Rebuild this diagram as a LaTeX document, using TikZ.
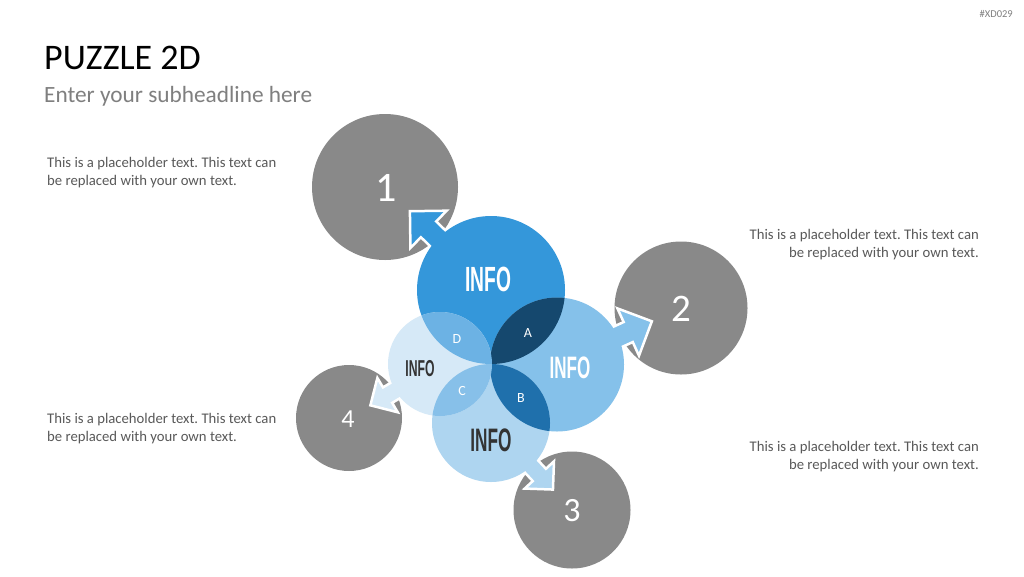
\documentclass[tikz,border=0pt]{standalone}
\usepackage{fontspec}
\setmainfont{Carlito}
\newfontfamily\infofont{Liberation Sans}
\usepackage{graphicx}
\usetikzlibrary{calc}
\frenchspacing
\pgfdeclarelayer{bglayer}
\pgfdeclarelayer{greylayer}
\pgfdeclarelayer{arrowlayer}
\pgfsetlayers{bglayer,greylayer,arrowlayer,main}
\definecolor{cBig}{RGB}{52,151,218}
\definecolor{cRight}{RGB}{133,193,234}
\definecolor{cBottom}{RGB}{174,213,240}
\definecolor{cLeft}{RGB}{214,233,247}
\definecolor{cA}{RGB}{21,72,110}
\definecolor{cB}{RGB}{31,112,172}
\definecolor{cC}{RGB}{135,192,233}
\definecolor{cD}{RGB}{108,178,228}
\definecolor{cGrey}{RGB}{137,137,137}
\definecolor{cText}{RGB}{89,89,89}
\definecolor{cSub}{RGB}{127,127,127}
\definecolor{cInfo}{RGB}{51,51,51}
\tikzset{
  greydisc/.style={circle, fill=cGrey, inner sep=0pt, text=white},
  bluedisc/.style={circle, inner sep=0pt},
  arrowstyle/.style={draw=white, line width=2.5pt, line join=miter},
  bodytext/.style={inner sep=0pt, text=cText, font=\fontsize{14.7}{17}\selectfont},
  infotxt/.style={inner sep=0pt, font=\infofont\bfseries\fontsize{#1}{#1}\selectfont},
  lettertxt/.style={inner sep=0pt, text=white, font=\fontsize{14}{14}\selectfont},
}
\newcommand{\puzArrow}[5]{%
  \coordinate (#2-h) at ($(#2)!#4!(#1)$);
  \filldraw[arrowstyle, fill=#3] (#2) -- ($(#2-h)!#4!90:(#2)$) -- ($(#2-h)!#5!90:(#2)$)
    -- ($(#1)!#5!90:(#2)$) -- ($(#1)!#5!-90:(#2)$) -- ($(#2-h)!#5!-90:(#2)$)
    -- ($(#2-h)!#4!-90:(#2)$) -- cycle;
}
\begin{document}
\begin{tikzpicture}[x=1pt, y=-1pt]
\useasboundingbox (0,0) rectangle (1024,576);
\begin{pgfonlayer}{bglayer}
\fill[white] (0,0) rectangle (1024,576);
\end{pgfonlayer}

% grey discs
\begin{pgfonlayer}{greylayer}
\node[greydisc, minimum size=146pt] (g1) at (385,187) {};
\node[greydisc, minimum size=133pt] (g2) at (681,308) {};
\node[greydisc, minimum size=117pt] (g3) at (572,510) {};
\node[greydisc, minimum size=106pt] (g4) at (349,418) {};
\end{pgfonlayer}

% blue discs
\node[bluedisc, fill=cBig, minimum size=148pt] (big) at (491,290) {};
\node[bluedisc, fill=cRight, minimum size=134pt] (right) at (557,364.5) {};
\node[bluedisc, fill=cBottom, minimum size=118pt] (bottom) at (491,423) {};
\node[bluedisc, fill=cLeft, minimum size=104pt] (left) at (440,364) {};

% arrows
\coordinate (t1) at ($(big)!0.765!(g1)$);
\coordinate (t2) at ($(right)!0.765!(g2)$);
\coordinate (t3) at ($(bottom)!0.765!(g3)$);
\coordinate (t4) at ($(left)!0.765!(g4)$);
\begin{pgfonlayer}{arrowlayer}
\puzArrow{big}{t1}{cBig}{26pt}{11pt}
\puzArrow{right}{t2}{cRight}{26pt}{11pt}
\puzArrow{bottom}{t3}{cBottom}{20pt}{9pt}
\puzArrow{left}{t4}{cLeft}{20pt}{9pt}
\end{pgfonlayer}

% overlaps
\begin{scope}
  \clip (big.center) circle[radius=74pt];
  \fill[cA] (right.center) circle[radius=67pt];
  \fill[cD] (left.center) circle[radius=52pt];
\end{scope}
\begin{scope}
  \clip (bottom.center) circle[radius=59pt];
  \fill[cB] (right.center) circle[radius=67pt];
  \fill[cC] (left.center) circle[radius=52pt];
\end{scope}

% numbers
\node[inner sep=0pt, text=white, font=\fontsize{42}{42}\selectfont] (n1) at (386,188) {1};
\node[inner sep=0pt, text=white, font=\fontsize{39}{39}\selectfont] (n2) at (681,309) {2};
\node[inner sep=0pt, text=white, font=\fontsize{34}{34}\selectfont] (n3) at (572,511) {3};
\node[inner sep=0pt, text=white, font=\fontsize{26}{26}\selectfont] (n4) at (348,419) {4};

% INFO labels
\node[infotxt=35, text=white] (i1) at (488,279) {\scalebox{0.55}[1]{INFO}};
\node[infotxt=31, text=white] (i2) at (570,367.5) {\scalebox{0.55}[1]{INFO}};
\node[infotxt=32.5, text=cInfo] (i3) at (491,440) {\scalebox{0.53}[1]{INFO}};
\node[infotxt=23, text=cInfo] (i4) at (420,368.5) {\scalebox{0.53}[1]{INFO}};

% letters
\node[lettertxt] (la) at (528,333) {A};
\node[lettertxt] (lb) at (521,398) {B};
\node[lettertxt] (lc) at (462,391) {C};
\node[lettertxt] (ld) at (457,339) {D};

% titles
\node[inner sep=0pt, anchor=base west, font=\fontsize{36}{36}\selectfont] (title) at (44,69.3) {PUZZLE 2D};
\node[inner sep=0pt, anchor=base west, text=cSub, font=\fontsize{23.3}{23.3}\selectfont] (sub) at (44,102) {Enter your subheadline here};
\node[inner sep=0pt, anchor=base east, text=cSub, font=\fontsize{10.5}{10.5}\selectfont] (code) at (1013,17) {\#XD029};

% body texts
\node[bodytext, anchor=base west] (t1a) at (47,167) {This is a placeholder text. This text can};
\node[bodytext, anchor=base west] (t1b) at (47,185) {be replaced with your own text.};
\node[bodytext, anchor=base east] (t2a) at (979,239) {This is a placeholder text. This text can};
\node[bodytext, anchor=base east] (t2b) at (979,257) {be replaced with your own text.};
\node[bodytext, anchor=base east] (t3a) at (979,451) {This is a placeholder text. This text can};
\node[bodytext, anchor=base east] (t3b) at (979,469) {be replaced with your own text.};
\node[bodytext, anchor=base west] (t4a) at (47,423) {This is a placeholder text. This text can};
\node[bodytext, anchor=base west] (t4b) at (47,441) {be replaced with your own text.};
\end{tikzpicture}
\end{document}
